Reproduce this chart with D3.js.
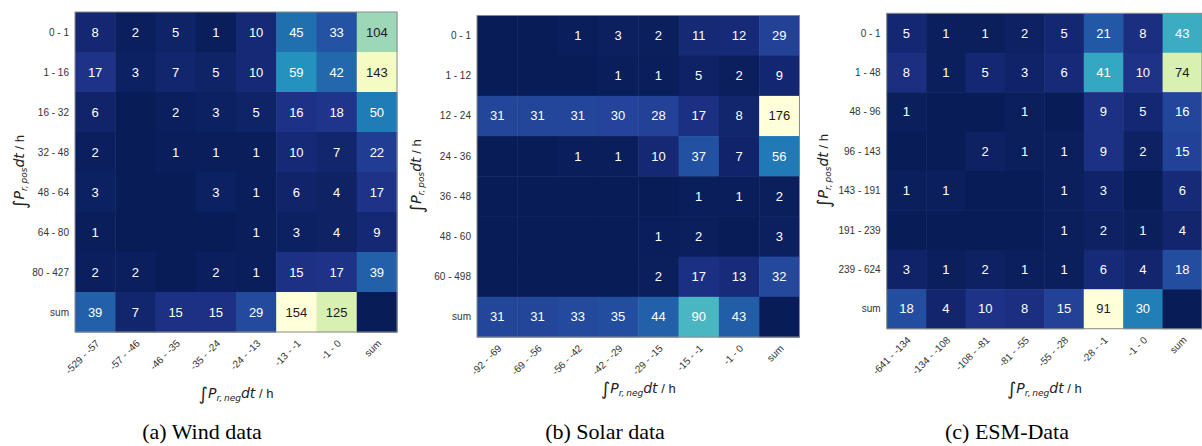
<!DOCTYPE html>
<html>
<head>
<meta charset="utf-8">
<script src="https://cdn.jsdelivr.net/npm/d3@7"></script>
<style>
  body { margin: 0; background: #fff; }
  svg { display: block; }
</style>
</head>
<body>
<script>
'use strict'

var width = 1202
var height = 446

// (a) wind
var windCols = ["-529 - -57", "-57 - -46", "-46 - -35", "-35 - -24", "-24 - -13", "-13 - -1", "-1 - 0", "sum"]
var windRows = ["0 - 1", "1 - 16", "16 - 32", "32 - 48", "48 - 64", "64 - 80", "80 - 427", "sum"]
var windValues = [
  [8, 2, 5, 1, 10, 45, 33, 104],
  [17, 3, 7, 5, 10, 59, 42, 143],
  [6, 0, 2, 3, 5, 16, 18, 50],
  [2, 0, 1, 1, 1, 10, 7, 22],
  [3, 0, 0, 3, 1, 6, 4, 17],
  [1, 0, 0, 0, 1, 3, 4, 9],
  [2, 2, 0, 2, 1, 15, 17, 39],
  [39, 7, 15, 15, 29, 154, 125, 0]
]

// (b) solar
var solarCols = ["-92 - -69", "-69 - -56", "-56 - -42", "-42 - -29", "-29 - -15", "-15 - -1", "-1 - 0", "sum"]
var solarRows = ["0 - 1", "1 - 12", "12 - 24", "24 - 36", "36 - 48", "48 - 60", "60 - 498", "sum"]
var solarValues = [
  [0, 0, 1, 3, 2, 11, 12, 29],
  [0, 0, 0, 1, 1, 5, 2, 9],
  [31, 31, 31, 30, 28, 17, 8, 176],
  [0, 0, 1, 1, 10, 37, 7, 56],
  [0, 0, 0, 0, 0, 1, 1, 2],
  [0, 0, 0, 0, 1, 2, 0, 3],
  [0, 0, 0, 0, 2, 17, 13, 32],
  [31, 31, 33, 35, 44, 90, 43, 0]
]

// (c) ESM
var esmCols = ["-641 - -134", "-134 - -108", "-108 - -81", "-81 - -55", "-55 - -28", "-28 - -1", "-1 - 0", "sum"]
var esmRows = ["0 - 1", "1 - 48", "48 - 96", "96 - 143", "143 - 191", "191 - 239", "239 - 624", "sum"]
var esmValues = [
  [5, 1, 1, 2, 5, 21, 8, 43],
  [8, 1, 5, 3, 6, 41, 10, 74],
  [1, 0, 0, 1, 0, 9, 5, 16],
  [0, 0, 2, 1, 1, 9, 2, 15],
  [1, 1, 0, 0, 1, 3, 0, 6],
  [0, 0, 0, 0, 1, 2, 1, 4],
  [3, 1, 2, 1, 1, 6, 4, 18],
  [18, 4, 10, 8, 15, 91, 30, 0]
]

var captions = ["(a) Wind data", "(b) Solar data", "(c) ESM-Data"]

var svg = d3.select("body").append("svg")
  .attr("width", width)
  .attr("height", height)

function luminance(c) {
  var rgb = d3.rgb(c)
  var ch = [rgb.r, rgb.g, rgb.b].map(function(v) {
    v = v / 255
    return v <= 0.03928 ? v / 12.92 : Math.pow((v + 0.055) / 1.055, 2.4)
  })
  return 0.2126 * ch[0] + 0.7152 * ch[1] + 0.0722 * ch[2]
}

function drawPanel(cols, rows, values, caption, box) {
  var g = svg.append("g")
  var x = d3.scaleBand().domain(cols).range([box.x0, box.x1])
  var y = d3.scaleBand().domain(rows).range([box.y0, box.y1])
  var vmax = d3.max(values, function(r) { return d3.max(r) })
  var color = d3.scaleSequential(function(t) { return d3.interpolateYlGnBu(1 - t) }).domain([0, vmax])

  var cells = []
  values.forEach(function(r, i) {
    r.forEach(function(v, j) { cells.push({ row: rows[i], col: cols[j], v: v }) })
  })

  g.selectAll("rect.cell")
    .data(cells)
    .enter()
    .append("rect")
    .attr("x", d => x(d.col))
    .attr("y", d => y(d.row))
    .attr("width", x.bandwidth() + 0.5)
    .attr("height", y.bandwidth() + 0.5)
    .attr("fill", d => color(d.v))

  g.selectAll("text.val")
    .data(cells.filter(d => d.v > 0))
    .enter()
    .append("text")
    .attr("x", d => x(d.col) + x.bandwidth() / 2)
    .attr("y", d => y(d.row) + y.bandwidth() / 2)
    .attr("text-anchor", "middle")
    .attr("dominant-baseline", "central")
    .attr("font-family", "Liberation Sans, Arial, sans-serif")
    .attr("font-size", 13)
    .attr("fill", d => luminance(color(d.v)) > 0.408 ? "#1a1a1a" : "#ffffff")
    .text(d => d.v)

  g.append("rect")
    .attr("x", box.x0)
    .attr("y", box.y0)
    .attr("width", box.x1 - box.x0)
    .attr("height", box.y1 - box.y0)
    .attr("fill", "none")
    .attr("stroke", "#8a8a8a")
    .attr("stroke-width", 1)

  // y ticks
  g.selectAll("text.ytick")
    .data(rows)
    .enter()
    .append("text")
    .attr("x", box.x0 - 6)
    .attr("y", d => y(d) + y.bandwidth() / 2)
    .attr("text-anchor", "end")
    .attr("dominant-baseline", "central")
    .attr("font-family", "Liberation Sans, Arial, sans-serif")
    .attr("font-size", 10)
    .attr("fill", "#333")
    .text(d => d)

  // x ticks
  g.selectAll("text.xtick")
    .data(cols)
    .enter()
    .append("text")
    .attr("transform", d => "translate(" + (x(d) + x.bandwidth() / 2 + 5) + "," + (box.y1 + 12) + ") rotate(-45)")
    .attr("text-anchor", "end")
    .attr("font-family", "Liberation Sans, Arial, sans-serif")
    .attr("font-size", 10)
    .attr("fill", "#333")
    .text(d => d)

  var cx = (box.x0 + box.x1) / 2
  var cy = (box.y0 + box.y1) / 2

  // x axis label
  var xl = g.append("text")
    .attr("x", cx)
    .attr("y", box.xlabelY)
    .attr("text-anchor", "middle")
    .attr("font-family", "DejaVu Sans, sans-serif")
    .attr("font-size", 13)
    .attr("fill", "#222")
  mathLabel(xl, "neg")

  // y axis label
  var yl = g.append("text")
    .attr("transform", "translate(" + box.ylabelX + "," + cy + ") rotate(-90)")
    .attr("text-anchor", "middle")
    .attr("font-family", "DejaVu Sans, sans-serif")
    .attr("font-size", 13)
    .attr("fill", "#222")
  mathLabel(yl, "pos")

  svg.append("text")
    .attr("x", box.capX)
    .attr("y", 439)
    .attr("text-anchor", "middle")
    .attr("font-family", "Liberation Serif, Times New Roman, serif")
    .attr("font-size", 22)
    .attr("fill", "#000")
    .text(caption)
}

function mathLabel(t, sub) {
  t.append("tspan").attr("font-size", 18).attr("dy", 2).text("\u222B")
  t.append("tspan").attr("font-style", "italic").attr("font-size", 14).attr("dy", -2).text("P")
  t.append("tspan").attr("font-style", "italic").attr("font-size", 9).attr("dy", 3).text("r,\u2009" + sub)
  t.append("tspan").attr("font-style", "italic").attr("font-size", 14).attr("dy", -3).text("dt")
  t.append("tspan").attr("font-family", "Liberation Sans, Arial, sans-serif").attr("font-size", 13).text(" / h")
}

drawPanel(windCols, windRows, windValues, captions[0],
  { x0: 75, x1: 397, y0: 12, y1: 332, xlabelY: 398, ylabelX: 24, capX: 202 })
drawPanel(solarCols, solarRows, solarValues, captions[1],
  { x0: 477, x1: 799.5, y0: 15.5, y1: 337, xlabelY: 393, ylabelX: 421, capX: 605 })
drawPanel(esmCols, esmRows, esmValues, captions[2],
  { x0: 886.7, x1: 1202, y0: 13.3, y1: 328.7, xlabelY: 393, ylabelX: 828, capX: 1007 })
</script>
</body>
</html>
